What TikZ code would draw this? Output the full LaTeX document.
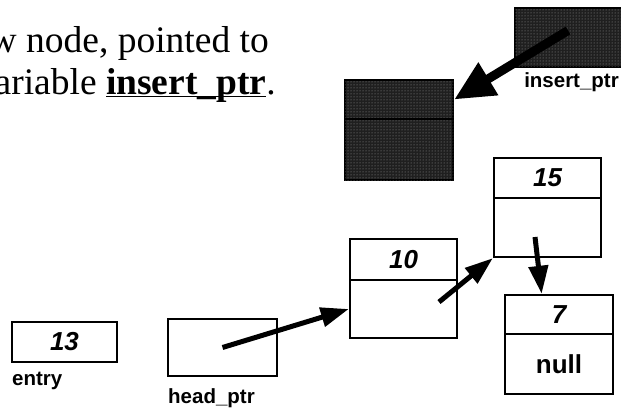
\documentclass[tikz,border=0pt]{standalone}
\usepackage{fontspec}
\setmainfont{Liberation Serif}
\setsansfont{Liberation Sans}
\usetikzlibrary{arrows.meta}
\usetikzlibrary{patterns}
\usetikzlibrary{calc}
\tikzset{cell/.style = {draw, line width = 2.4pt, minimum width = 107pt, inner sep = 0,
    font = \sffamily\bfseries\fontsize{26}{26}\selectfont}}
\tikzset{dark/.style = {fill = black!88, postaction = {pattern = dots, pattern color = black!40}}}
\tikzset{lbl/.style = {inner sep = 0, anchor = base west, font = \sffamily\bfseries\fontsize{20.5}{20.5}\selectfont}}
\tikzset{ptr/.style = {line width = 5pt, -{Triangle[length = 28pt, width = 19pt]}}}
\tikzset{bigptr/.style = {line width = 9pt, -{Triangle[length = 40pt, width = 36pt]}}}

\begin{document}
\begin{tikzpicture}[x = 1pt, y = -1pt]
    \useasboundingbox (0, 0) rectangle (621, 409);
    \clip (0, 0) rectangle (621, 409);

    \node [inner sep = 0, anchor = base east, font = \fontsize{37.5}{42}\selectfont] (line1)
      at (269, 53) {w node, pointed to};
    \node [inner sep = 0, anchor = base east, font = \fontsize{37.5}{42}\selectfont] (line2)
      at (276, 95) {ariable \underline{\smash{\textbf{insert\_ptr}}}.};

    % local variables
    \node [cell, minimum width = 105pt, minimum height = 40pt] (entry) at (64.5, 342) {\itshape 13};
    \node [lbl] (entrylbl) at (12, 385) {entry};
    \node [cell, minimum width = 109pt, minimum height = 57pt] (head) at (222.5, 347.5) {};
    \node [lbl] (headlbl) at (168, 403) {head\_ptr};

    % the list
    \node [cell, minimum height = 41pt] (n10data) at (403.5, 259.5) {\itshape 10};
    \node [cell, minimum height = 58pt] (n10link) at (403.5, 309) {};
    \node [cell, minimum height = 40pt] (n15data) at (547.5, 178) {\itshape 15};
    \node [cell, minimum height = 59pt] (n15link) at (547.5, 227.5) {};
    \node [cell, minimum width = 108pt, minimum height = 39pt] (n7data) at (559, 314.5) {\itshape 7};
    \node [cell, minimum width = 108pt, minimum height = 60pt] (n7link) at (559, 364) {null};

    % new node and its pointer
    \node [cell, dark, minimum width = 108pt, minimum height = 39pt] (newdata) at (399, 99.5) {};
    \node [cell, dark, minimum width = 108pt, minimum height = 61pt] (newlink) at (399, 149.5) {};
    \node [cell, dark, minimum width = 110pt, minimum height = 59pt] (insert) at (570, 37.5) {};
    \node [lbl, anchor = base east] (insertlbl) at (619, 88) {insert\_ptr};

    \coordinate (headtail) at (head.center);
    \coordinate (n10tail) at ($(n10link.center) + (35.5, -7)$);
    \coordinate (n15tail) at ($(n15link.center) + (-12.5, 9.5)$);
    \coordinate (inserttail) at ($(insert.center) + (-2, -7)$);

    \draw [ptr] (headtail) -- (n10link.west);
    \draw [ptr] (n10tail) -- (n15link.south west);
    \draw [ptr] (n15tail) -- (n7data.130);
    \draw [bigptr] (inserttail) -- (newdata.east);
\end{tikzpicture}
\end{document}
